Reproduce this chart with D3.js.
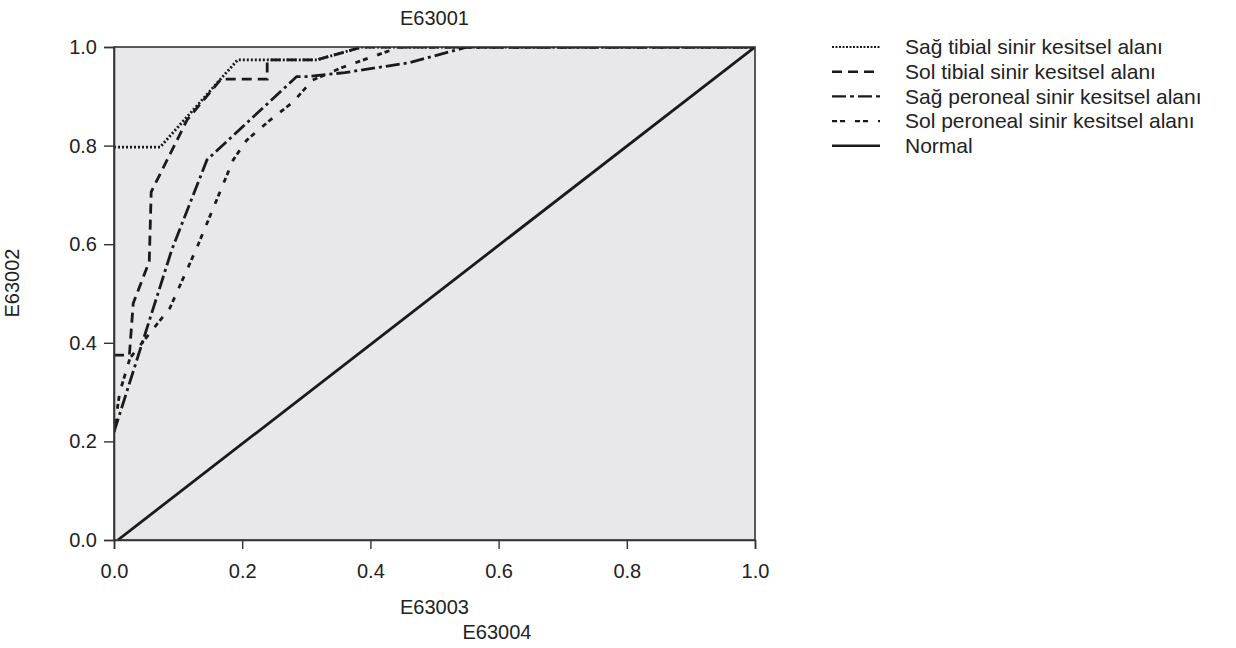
<!DOCTYPE html>
<html>
<head>
<meta charset="utf-8">
<script src="https://cdn.jsdelivr.net/npm/d3@7"></script>
<style>
  body { margin: 0; background: #fff; }
  text { font-family: "Liberation Sans", "Open Sans", sans-serif; fill: #222; }
</style>
</head>
<body>
<div id="chart"></div>
<script>
// ROC curves, values
var seriesNames = [
	"Sağ tibial sinir kesitsel alanı",
	"Sol tibial sinir kesitsel alanı",
	"Sağ peroneal sinir kesitsel alanı",
	"Sol peroneal sinir kesitsel alanı",
	"Normal"
];

var sagTibial = [[0, 0.797], [0.072, 0.797], [0.193, 0.974], [0.317, 0.974], [0.387, 1], [1, 1]];
var solTibial = [[0, 0.375], [0.024, 0.375], [0.03, 0.48], [0.055, 0.565], [0.058, 0.706],
	[0.114, 0.852], [0.167, 0.935], [0.239, 0.935], [0.239, 0.974], [0.317, 0.974], [0.387, 1], [1, 1]];
var sagPeroneal = [[0, 0.219], [0.09, 0.588], [0.145, 0.771], [0.285, 0.94], [0.3, 0.94],
	[0.36, 0.948], [0.46, 0.968], [0.551, 1], [1, 1]];
var solPeroneal = [[0, 0.22], [0.009, 0.3], [0.025, 0.369], [0.056, 0.42], [0.087, 0.47],
	[0.129, 0.592], [0.186, 0.771], [0.207, 0.811], [0.24, 0.848], [0.279, 0.888],
	[0.31, 0.933], [0.357, 0.959], [0.446, 1], [1, 1]];
var normal = [[0.006, 0], [1, 1]];

var xTicks = [0, 0.2, 0.4, 0.6, 0.8, 1];
var yTicks = [0, 0.2, 0.4, 0.6, 0.8, 1];

var width = 1236,
	height = 648;

var margin = {left: 114, right: 481, top: 47, bottom: 108};
var plotW = width - margin.left - margin.right,
	plotH = height - margin.top - margin.bottom;

var dashes = ["2,2", "10,6", "14,4,3,4", "5,3,5,10", null];
var allSeries = [sagTibial, solTibial, sagPeroneal, solPeroneal, normal];

var svg = d3.select("#chart")
	.append("svg")
		.attr("width", width)
		.attr("height", height);

var x = d3.scaleLinear().domain([0, 1]).range([0, plotW]);
var y = d3.scaleLinear().domain([0, 1]).range([plotH, 0]);

var g = svg.append("g")
	.attr("transform", "translate(" + margin.left + "," + margin.top + ")");

g.append("rect")
	.attr("width", plotW)
	.attr("height", plotH)
	.attr("fill", "#e8e8ea");

var clip = g.append("clipPath").attr("id", "clip");
clip.append("rect").attr("width", plotW).attr("height", plotH);

var line = d3.line()
	.x(function(d) { return x(d[0]); })
	.y(function(d) { return y(d[1]); });

g.append("g")
	.attr("clip-path", "url(#clip)")
	.selectAll("path")
	.data(allSeries)
	.enter().append("path")
		.attr("d", line)
		.attr("fill", "none")
		.attr("stroke", "#1a1a1a")
		.attr("stroke-width", 2.8)
		.attr("stroke-dasharray", function(d, i) { return dashes[i]; });

// frame
g.append("rect")
	.attr("width", plotW)
	.attr("height", plotH)
	.attr("fill", "none")
	.attr("stroke", "#333")
	.attr("stroke-width", 1.6);

var xAxis = g.append("g")
	.attr("transform", "translate(0," + plotH + ")")
	.call(d3.axisBottom(x).tickValues(xTicks).tickFormat(d3.format(".1f")).tickSize(9).tickPadding(15));

var yAxis = g.append("g")
	.call(d3.axisLeft(y).tickValues(yTicks).tickFormat(d3.format(".1f")).tickSize(10).tickPadding(7));

[xAxis, yAxis].forEach(function(a) {
	a.select(".domain").attr("stroke", "#333").attr("stroke-width", 1.6);
	a.selectAll(".tick line").attr("stroke", "#333").attr("stroke-width", 1.4);
	a.selectAll(".tick text")
		.style("font-family", "'Liberation Sans', 'Open Sans', sans-serif")
		.style("font-size", "20px")
		.attr("fill", "#222");
});

svg.append("text")
	.attr("x", margin.left + plotW / 2)
	.attr("y", 25)
	.attr("text-anchor", "middle")
	.style("font-size", "20px")
	.text("E63001");

svg.append("text")
	.attr("x", margin.left + plotW / 2)
	.attr("y", 614)
	.attr("text-anchor", "middle")
	.style("font-size", "20px")
	.text("E63003");

svg.append("text")
	.attr("x", 497)
	.attr("y", 639)
	.attr("text-anchor", "middle")
	.style("font-size", "20px")
	.text("E63004");

svg.append("text")
	.attr("transform", "translate(19,283) rotate(-90)")
	.attr("text-anchor", "middle")
	.style("font-size", "20px")
	.text("E63002");

// legend
var legend = svg.append("g")
	.attr("transform", "translate(832,47)");

var rows = legend.selectAll("g")
	.data(seriesNames)
	.enter().append("g")
		.attr("transform", function(d, i) { return "translate(0," + (i * 24.7) + ")"; });

rows.append("line")
	.attr("x1", 0)
	.attr("x2", 48)
	.attr("stroke", "#1a1a1a")
	.attr("stroke-width", function(d, i) { return i === 0 ? 1.8 : 2.4; })
	.attr("stroke-dasharray", function(d, i) { return i === 0 ? "2,1.5" : (i === 2 ? "14,4,4,4" : (i === 3 ? "5,3,5,10" : dashes[i])); });

rows.append("text")
	.attr("x", 73)
	.attr("dy", "0.35em")
	.style("font-size", "21px")
	.text(function(d) { return d; });
</script>
</body>
</html>
